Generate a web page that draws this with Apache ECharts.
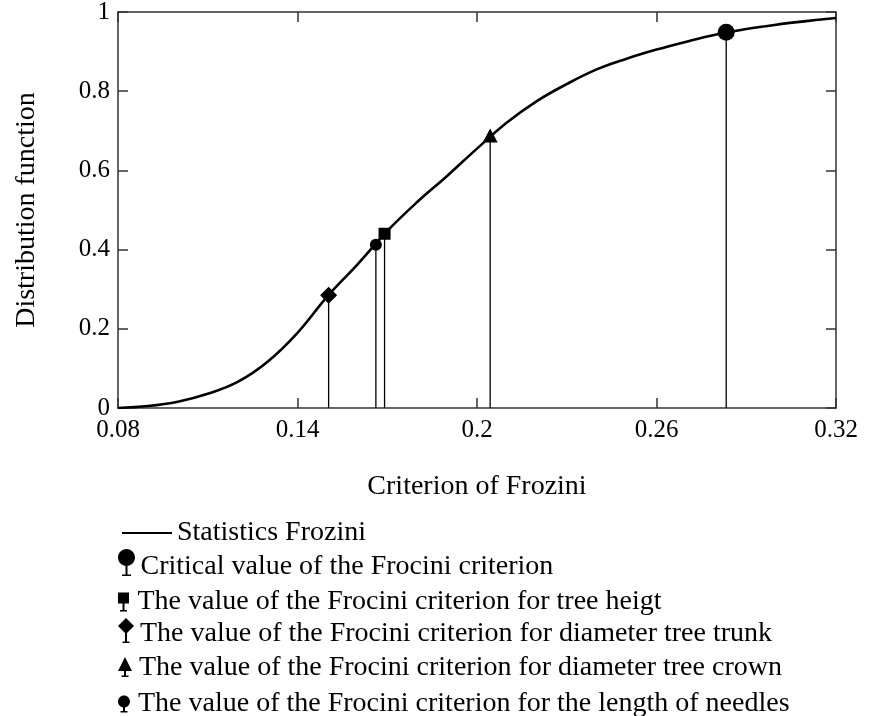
<!DOCTYPE html>
<html>
<head>
<meta charset="utf-8">
<title>Distribution function of the Frozini statistics</title>
<script src="https://cdn.jsdelivr.net/npm/echarts@6.0.0/dist/echarts.min.js"></script>
<style>
  html, body { margin: 0; padding: 0; background: #fff; }
  #chart { width: 872px; height: 716px; }
</style>
</head>
<body>
<div id="chart"></div>
<script>
// Distribution function of the Frozini statistic
const curveX = [0.08, 0.09, 0.10, 0.11, 0.12, 0.13, 0.14, 0.15, 0.16, 0.17, 0.18, 0.19,
                0.20, 0.21, 0.22, 0.23, 0.24, 0.25, 0.26, 0.27, 0.28, 0.29, 0.30, 0.31, 0.32];
const curveY = [0.000, 0.005, 0.016, 0.036, 0.066, 0.117, 0.190, 0.282, 0.362, 0.447, 0.520, 0.586,
                0.655, 0.721, 0.775, 0.818, 0.855, 0.882, 0.905, 0.925, 0.943, 0.957, 0.968, 0.977, 0.985];

// Criterion values [x, F(x)]
const criticalValue = [0.2833, 0.949];
const treeHeight = [0.1691, 0.440];
const trunkDiameter = [0.1504, 0.285];
const crownDiameter = [0.2044, 0.688];
const needleLength = [0.1662, 0.412];

const xTickValues = [0.08, 0.14, 0.20, 0.26, 0.32];
const yTickValues = [0, 0.2, 0.4, 0.6, 0.8, 1];

const names = {
  curve: 'Statistics Frozini',
  critical: 'Critical value of the Frocini criterion',
  height: 'The value of the Frocini criterion for tree heigt',
  trunk: 'The value of the Frocini criterion for diameter tree trunk',
  crown: 'The value of the Frocini criterion for diameter tree crown',
  needles: 'The value of the Frocini criterion for the length of needles'
};

const FONT = '"Liberation Serif", "Times New Roman", serif';
const AXIS_COLOR = '#333';

// ---- legend icon shapes: a marker standing on a small stem with a foot ----
function circlePath(cx, cy, r) {
  const k = 0.5523 * r;
  return `M${cx},${cy - r} C${cx + k},${cy - r} ${cx + r},${cy - k} ${cx + r},${cy} ` +
         `C${cx + r},${cy + k} ${cx + k},${cy + r} ${cx},${cy + r} ` +
         `C${cx - k},${cy + r} ${cx - r},${cy + k} ${cx - r},${cy} ` +
         `C${cx - r},${cy - k} ${cx - k},${cy - r} ${cx},${cy - r} Z`;
}
function stemPath(cx, y0, y1, foot) {
  const h = 1.0, t = 1.6;
  return `M${cx - h},${y0} L${cx + h},${y0} L${cx + h},${y1} L${cx + foot},${y1} ` +
         `L${cx + foot},${y1 + t} L${cx - foot},${y1 + t} L${cx - foot},${y1} L${cx - h},${y1} Z`;
}
const icons = {
  curve: 'path://M0,0 L50,0 L50,2 L0,2 Z',
  critical: 'path://' + circlePath(8.5, 8.5, 8.5) + ' ' + stemPath(8.5, 16, 25.4, 4.5),
  height: 'path://M0,0 L11,0 L11,11 L0,11 Z ' + stemPath(5.5, 10, 17.4, 3.5),
  trunk: 'path://M8,0 L16,8 L8,16 L0,8 Z ' + stemPath(8, 15, 23.4, 3.5),
  crown: 'path://M7,0 L14,14 L0,14 Z ' + stemPath(7, 13, 18.4, 3.5),
  needles: 'path://' + circlePath(6, 6, 6) + ' ' + stemPath(6, 11, 15.4, 3.5)
};

// One legend block per item; the label sits a little lower than the icon's centre
function legendFor(key, opts, textShift) {
  return Object.assign({
    data: [names[key]],
    orient: 'vertical',
    left: 118,
    itemWidth: 18,
    icon: icons[key],
    selectedMode: false,
    padding: 0,
    itemStyle: { color: '#000' },
    formatter: name => `{t|${name}}`,
    textStyle: {
      fontFamily: FONT, fontSize: 28, color: '#000',
      rich: { t: { fontFamily: FONT, fontSize: 28, color: '#000', padding: [textShift, 0, 0, 0] } }
    }
  }, opts);
}

function stemSeries(key, point, symbol, size) {
  return {
    name: names[key],
    type: 'line',
    color: '#000',
    symbol: symbol,
    symbolSize: size,
    showAllSymbol: true,
    lineStyle: { color: '#000', width: 1.3 },
    itemStyle: { color: '#000' },
    z: 5,
    animation: false,
    data: [
      { value: [point[0], 0], symbol: 'none' },
      { value: [point[0], point[1]] }
    ]
  };
}

const chart = echarts.init(document.getElementById('chart'), null, { renderer: 'canvas' });

const tickLabel = { fontFamily: FONT, fontSize: 25, color: '#000' };

chart.setOption({
  backgroundColor: '#fff',
  animation: false,
  grid: { left: 118, right: 36, top: 12, bottom: 308, containLabel: false, outerBoundsMode: 'none' },
  xAxis: [
    {
      type: 'value', position: 'bottom', min: 0.08, max: 0.32,
      name: 'Criterion of Frozini', nameLocation: 'middle', nameGap: 65,
      nameTextStyle: { fontFamily: FONT, fontSize: 28, color: '#000' },
      axisLine: { show: true, onZero: false, lineStyle: { color: AXIS_COLOR, width: 1.5 } },
      axisTick: { show: true, inside: true, length: 10, customValues: xTickValues,
                  lineStyle: { color: AXIS_COLOR, width: 1.5 } },
      axisLabel: { customValues: xTickValues, margin: 10, formatter: v => String(+v.toFixed(2)), ...tickLabel },
      splitLine: { show: false }
    },
    {
      type: 'value', position: 'top', min: 0.08, max: 0.32,
      axisLine: { show: true, onZero: false, lineStyle: { color: AXIS_COLOR, width: 1.5 } },
      axisTick: { show: true, inside: true, length: 10, customValues: xTickValues,
                  lineStyle: { color: AXIS_COLOR, width: 1.5 } },
      axisLabel: { show: false },
      splitLine: { show: false }
    }
  ],
  yAxis: [
    {
      type: 'value', position: 'left', min: 0, max: 1,
      name: 'Distribution function', nameLocation: 'middle', nameGap: 77,
      nameTextStyle: { fontFamily: FONT, fontSize: 28, color: '#000' },
      axisLine: { show: true, onZero: false, lineStyle: { color: AXIS_COLOR, width: 1.5 } },
      axisTick: { show: true, inside: true, length: 10, customValues: yTickValues,
                  lineStyle: { color: AXIS_COLOR, width: 1.5 } },
      axisLabel: { customValues: yTickValues, margin: 8, formatter: v => String(+v.toFixed(1)), ...tickLabel },
      splitLine: { show: false }
    },
    {
      type: 'value', position: 'right', min: 0, max: 1,
      axisLine: { show: true, onZero: false, lineStyle: { color: AXIS_COLOR, width: 1.5 } },
      axisTick: { show: true, inside: true, length: 10, customValues: yTickValues,
                  lineStyle: { color: AXIS_COLOR, width: 1.5 } },
      axisLabel: { show: false },
      splitLine: { show: false }
    }
  ],
  legend: [
    legendFor('curve', { left: 122, top: 519, itemWidth: 50, itemHeight: 20 }, 0),
    legendFor('critical', { top: 549, itemHeight: 27 }, 8),
    legendFor('height', { top: 588, itemHeight: 19 }, 0),
    legendFor('trunk', { top: 618, itemHeight: 25 }, 6),
    legendFor('crown', { top: 654, itemHeight: 20 }, 2),
    legendFor('needles', { top: 690, itemHeight: 17 }, 0)
  ],
  series: [
    {
      name: names.curve,
      type: 'line',
      color: '#000',
      smooth: 0.4,
      symbol: 'none',
      lineStyle: { color: '#000', width: 2.6 },
      z: 3,
      data: curveX.map((x, i) => [x, curveY[i]])
    },
    stemSeries('critical', criticalValue, 'circle', 17),
    stemSeries('height', treeHeight, 'rect', 12),
    stemSeries('trunk', trunkDiameter, 'diamond', [17, 17]),
    stemSeries('crown', crownDiameter, 'triangle', [15, 14]),
    stemSeries('needles', needleLength, 'circle', 12)
  ]
});
</script>
</body>
</html>
